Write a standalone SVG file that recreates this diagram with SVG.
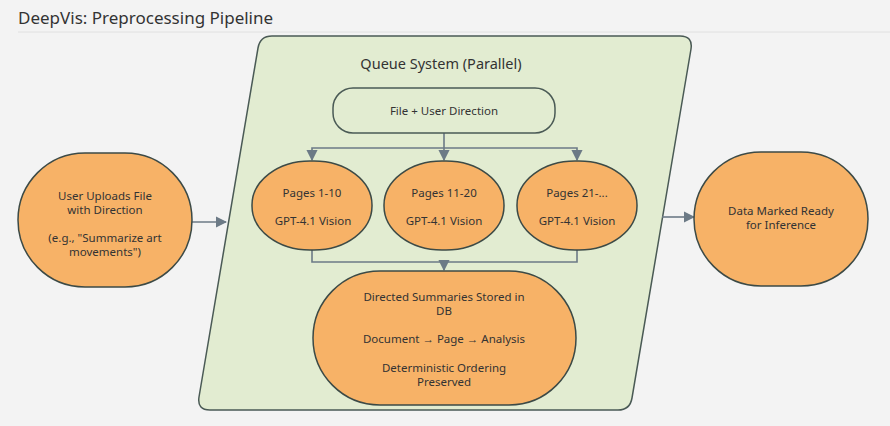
<svg xmlns="http://www.w3.org/2000/svg" width="890" height="426" viewBox="0 0 890 426">
<defs>
<style>
text{font-family:"Noto Sans","Open Sans",sans-serif;fill:#333;}
.n{fill:#f7b267;stroke:#3c4a46;stroke-width:1.5;}
.t{font-size:11.5px;text-anchor:middle;}
.c{fill:none;stroke:#6c7a86;stroke-width:1.6;}
</style>
<marker id="a" viewBox="0 0 10 10" refX="9" refY="5" markerWidth="7" markerHeight="7" orient="auto"><path d="M0,0L10,5L0,10z" fill="#6c7a86"/></marker>
</defs>
<rect width="890" height="426" fill="#f3f3f3"/>
<text x="18" y="24" style="font-size:17px">DeepVis: Preprocessing Pipeline</text>
<line x1="18" y1="32" x2="890" y2="32" stroke="#e0e0e0"/>
<g id="queue">
<path d="M272,36 L680,36 Q693,36 691,49 L632,398 Q630,410 618,410 L210,410 Q197,410 199,397 L258,48 Q260,36 272,36 Z" fill="#e2ecd1" stroke="#4a5a55" stroke-width="1.5"/>
<text x="441" y="69" style="font-size:14.5px;text-anchor:middle">Queue System (Parallel)</text>
</g>
<g id="connectors">
<path class="c" d="M444,133 V148 M312,158 V148 H577 V158" />
<path class="c" d="M312,150 V160" marker-end="url(#a)"/>
<path class="c" d="M444,148 V160" marker-end="url(#a)"/>
<path class="c" d="M577,150 V160" marker-end="url(#a)"/>
<path class="c" d="M312,250 V262 H577 V250 M444,262 V270" marker-end="url(#a)"/>
<path class="c" d="M192,222 H226" marker-end="url(#a)"/>
<path class="c" d="M662,217 H694" marker-end="url(#a)"/>
</g>
<g id="user"><rect class="n" x="18" y="153" width="174" height="134" rx="67"/>
<text class="t" x="105" y="200">User Uploads File</text><text class="t" x="105" y="214">with Direction</text>
<text class="t" x="105" y="242">(e.g., "Summarize art</text><text class="t" x="105" y="256">movements")</text></g>
<g id="file"><rect x="333" y="88" width="222" height="45" rx="20" fill="#e2ecd1" stroke="#4a5a55" stroke-width="1.5"/>
<text class="t" x="444" y="115">File + User Direction</text></g>
<g id="p1"><rect class="n" x="252" y="161" width="120" height="89" rx="58" ry="44"/>
<text class="t" x="312" y="197">Pages 1-10</text><text class="t" x="313" y="225">GPT-4.1 Vision</text></g>
<g id="p2"><rect class="n" x="384" y="161" width="120" height="89" rx="58" ry="44"/>
<text class="t" x="444" y="197">Pages 11-20</text><text class="t" x="444" y="225">GPT-4.1 Vision</text></g>
<g id="p3"><rect class="n" x="517" y="161" width="120" height="89" rx="58" ry="44"/>
<text class="t" x="577" y="197">Pages 21-...</text><text class="t" x="577" y="225">GPT-4.1 Vision</text></g>
<g id="db"><rect class="n" x="313" y="271" width="263" height="134" rx="67"/>
<text class="t" x="444" y="301">Directed Summaries Stored in</text><text class="t" x="444" y="315">DB</text>
<text class="t" x="444" y="343">Document → Page → Analysis</text>
<text class="t" x="444" y="372">Deterministic Ordering</text><text class="t" x="444" y="386">Preserved</text></g>
<g id="ready"><rect class="n" x="694" y="152" width="174" height="134" rx="67"/>
<text class="t" x="781" y="215">Data Marked Ready</text><text class="t" x="781" y="229">for Inference</text></g>
</svg>
